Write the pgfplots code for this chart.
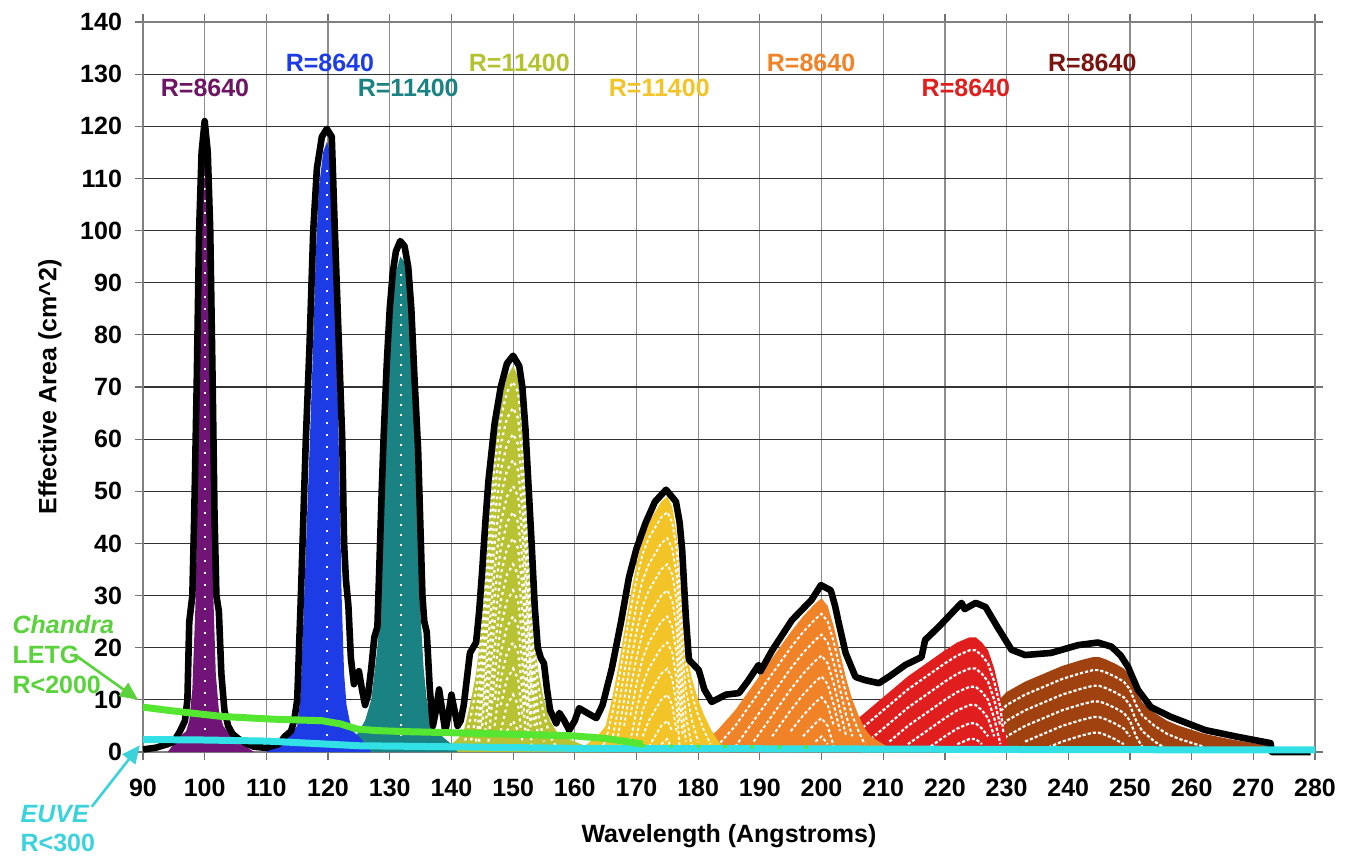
\documentclass[border=0pt]{standalone}
\usepackage{fontspec}
\setmainfont{Liberation Sans}
\usepackage{pgfplots}
\usepackage{pgfplotstable}
\pgfplotsset{compat=1.18}
\usetikzlibrary{arrows.meta}

\definecolor{cpurple}{HTML}{701478}
\definecolor{cblue}{HTML}{1E3CE6}
\definecolor{cteal}{HTML}{1A8282}
\definecolor{colive}{HTML}{B8C232}
\definecolor{cyellow}{HTML}{F2C428}
\definecolor{corange}{HTML}{F08228}
\definecolor{cred}{HTML}{E01E1E}
\definecolor{cbrown}{HTML}{A0420F}
\definecolor{cgreen}{HTML}{55E632}
\definecolor{ccyan}{HTML}{32E1E6}
\definecolor{lgreen}{HTML}{5AD23C}
\definecolor{lcyan}{HTML}{3CD2DC}
\definecolor{lbrown}{HTML}{7A1410}
\definecolor{lpurple}{HTML}{6E1464}
\definecolor{lolive}{HTML}{B4C232}

\pgfplotstableread{
x y
94 0
95 1.5
96 3
97 4
97.5 6
98 12
98.5 28
99 60
99.4 95
99.7 112
100 118
100.3 112
100.6 95
101 60
101.4 30
101.8 15
102.3 8
103 5
104 3.5
105 3
106 2
107 0.8
108 0
}\tpurple

\pgfplotstableread{
x y
110 0
111 1.5
113 2.5
114 3.5
115 5
115.5 10
116 25
116.5 42
117 58
117.5 75
118 95
118.5 108
119.2 115
119.8 117
120.4 115
120.9 100
121.4 78
121.8 55
122.2 30
122.6 15
123 9
123.5 6
124 4
125 3
126 1.5
127 0
}\tblue

\pgfplotstableread{
x y
123 0
124 2
125 4
126 6
127 10
127.5 15
128 20
128.5 35
129 52
129.5 67
130 79
130.5 87
131 92
131.7 95
132.4 94
133 88
133.5 78
134 62
134.5 45
135 26
135.5 16
136 10
137 5
138 3.5
139 2.5
140 1.5
141 0
}\tteal

\pgfplotstableread{
x y
138 0
140 1.5
141 2.5
142 4
143 9
144 15
144.5 20
145 28
145.5 37
146 45
147 58
148 67
149 72
150 74
150.8 72
151.5 65
152 57
152.5 46
153 34
153.5 23
154 16
155 10
156 6
157 4
158 3
160 2
162 1
164 0
}\tolive

\pgfplotstableread{
x y
160 0
162 1.5
164 3.5
165 5
166 10
167 16
168 23
169 30
170 36
171 41
172 44
173 46
174 48
175 49
175.8 47
176.5 42
177 34
177.5 26
178 20
179 14
180 10
181 7
182 4.5
183 2.5
184 1
185 0
}\tyellow

\pgfplotstableread{
x y
177 0
180 1.5
183 4
186 8
189 13
192 18
195 23
197 26
199 28.5
200 29.5
201 28
202 24
203 19
204 14
205 10
206 7
207 4.5
208 3
210 1.5
212 0
}\torange

\pgfplotstableread{
x y
196 0
199 1.5
202 3
205 5.5
208 8.5
211 11.5
214 14.5
217 17
220 19.5
222 21
224 22
225 22
226 21
227 19.5
228 16
229 11
229.5 6
230 2
231 0
}\tred

\pgfplotstableread{
x y
213 0
216 1.5
219 2.5
222 3.5
224 4.5
226 6.5
228 9
230 11.5
233 13.5
236 15
239 16.5
242 17.6
244 18.2
245 18.2
246 17.8
247.5 17
249 16
250 14.5
251 11.5
252 9.5
254 7.5
256 6
258 5
262 3.5
266 2.5
270 1.7
273 1.2
273.2 0
}\tbrown

\pgfplotstableread{
x y
90 0.5
92 0.8
94 1.5
95 2
96 4
96.8 6
97.2 10
97.5 25
98 30
98.3 45
98.7 70
99.1 100
99.5 115
100 121
100.5 115
100.9 100
101.3 70
101.6 45
101.9 30
102.3 27
102.7 15
103.2 8
103.8 5
104.5 3.5
105.5 2.5
107 1.5
108 1
110 0.8
112 1.5
113 3
114 4
114.5 6
115 10
115.3 20
115.6 30
116 45
116.4 60
117 78
117.6 100
118.2 112
119 118
119.8 119.5
120.6 118
121.1 100
121.7 80
122.3 60
122.6 40
122.9 33
123.3 28
123.7 18
124.2 13
125 15.5
125.5 12
126 9
126.5 11
127 16
127.5 22
128 24
128.3 35
128.7 50
129 60
129.5 74
130 85
130.5 92
131 96
131.7 98
132.4 97
133 93
133.5 85
134 72
134.6 58
135 42
135.3 30
135.6 25
136 23
136.5 12
137 5
137.5 8
138 12
138.5 8
139 4
139.5 7
140 11
140.5 8
141 5
141.5 6
142 9
142.5 14
143 19
144 21
144.5 27
145 35
145.5 44
146 52
147 63
148 70
149 74.5
150 76
151 74
151.5 70
152 62
152.5 51
153 40
153.5 28
154 20
154.5 18
155 17
155.5 12
156 8
157 5.5
157.5 7.5
158.3 6
159.1 4.2
160 6
160.7 8.4
162 7.5
163.5 6.5
164.5 9
166 16
167.5 25
168.8 33.6
170 39
171.5 44
173 48
174.8 50.3
176.4 48
177 44
177.4 38.8
178 26
178.5 17.7
180.1 15.7
181 12
182.2 9.6
184.5 11
186.6 11.3
188 13.5
189.8 16.7
190.1 15.5
192 19.5
195.2 25.3
198.4 29.2
199.9 32
201.5 31
202.2 28
202.8 24.7
203.9 19
205.5 14.4
207 13.8
209.3 13.2
211 14.5
213.6 16.7
216.2 18.2
216.8 21.5
219 24
222.7 28.6
223.2 27.4
225 28.6
226.6 27.8
228.5 24
230.8 19.6
233 18.6
237.2 19
241.6 20.5
244.8 21
247 20.2
248.5 18.5
249.7 16.3
251.3 11.9
253.4 8.6
256.7 6.7
262.2 4.2
267.5 2.9
272.8 1.7
273 0
279.3 0
}\tenv

\pgfplotstableread{
x y
90 8.6
94 8.0
97.6 7.5
103 6.8
111 6.3
119 6.0
122 5.4
124.7 4.4
128 4.1
132.8 3.9
143.5 3.6
159.7 3.1
165 2.6
169 1.9
171 1.5
}\tgreen

\pgfplotstableread{
x y
90 2.4
100 2.3
110 2.1
115 1.8
120 1.5
125 1.2
140 1.0
160 0.7
200 0.6
240 0.45
280 0.4
}\tcyan

% white nested arcs: each arc is the curve moved down by a constant
\newcommand{\hatch}[3]{%
  \pgfplotsinvokeforeach{#2}{\addplot[white, #3, restrict y to domain=0.4:200, unbounded coords=jump] table[x=x, y expr=\thisrow{y}-##1] {#1};}}

\newcommand{\lab}{\bfseries\fontsize{12.5}{15}\selectfont}

\begin{document}
\begin{tikzpicture}
\begin{axis}[
  scale only axis, width=586pt, height=365pt,
  xmin=90, xmax=280, ymin=0, ymax=140,
  xtick={90,100,...,280}, ytick={0,10,...,140},
  grid=major,
  x grid style={black!45, line width=0.6pt},
  y grid style={black!80, line width=0.6pt},
  axis line style={black!50, line width=1pt},
  tick align=outside, major tick length=4pt,
  tick style={black!55, line width=0.6pt},
  ticklabel style={font=\lab},
  /pgf/number format/assume math mode=true,
  xticklabel style={yshift=-6pt},
  yticklabel style={xshift=-3pt},
  xlabel={Wavelength (Angstroms)},
  ylabel={Effective Area (cm\^{}2)},
  xlabel style={font=\lab, at={(axis description cs:0.5,-0.115)}, anchor=center},
  ylabel style={font=\lab, at={(axis description cs:-0.0794,0.5)}, anchor=center},
  clip=false,
  no markers,
]
% fills, right to left
\addplot[fill=cbrown, draw=none] table {\tbrown} \closedcycle;
\hatch{\tbrown}{2.5,5.5,8.5,11.5,14.5}{line width=1.1pt, dash pattern=on 1.6pt off 1pt}
\addplot[fill=cred, draw=none] table {\tred} \closedcycle;
\hatch{\tred}{2.5,6,9.5,13,16.5,19.5}{line width=1.1pt, dash pattern=on 1.6pt off 1pt}
\addplot[fill=corange, draw=none] table {\torange} \closedcycle;
\hatch{\torange}{3,7,11,15,19,23,26.5}{line width=1pt, dash pattern=on 1.6pt off 1.2pt}
\addplot[fill=cyellow, draw=none] table {\tyellow} \closedcycle;
\hatch{\tyellow}{3,8,13,18,23,28,33,38,43,46.5}{line width=0.9pt, dash pattern=on 1.6pt off 1.2pt}
\addplot[fill=colive, draw=none] table {\tolive} \closedcycle;
\hatch{\tolive}{3,8,13,18,23,28,33,38,43,48,53,58,63,68}{line width=1.1pt, dash pattern=on 1.4pt off 1.8pt}
\addplot[fill=cteal, draw=none] table {\tteal} \closedcycle;
\addplot[white, line width=1.2pt, dash pattern=on 1pt off 4pt] coordinates {(131.8,3) (131.8,92)};
\addplot[fill=cblue, draw=none] table {\tblue} \closedcycle;
\addplot[white, line width=1pt, dash pattern=on 1pt off 5pt] coordinates {(119.8,3) (119.8,112)};
\addplot[fill=cpurple, draw=none] table {\tpurple} \closedcycle;
\addplot[white, line width=1pt, dash pattern=on 1pt off 5pt] coordinates {(100,2) (100,112)};
% envelope
\addplot[black, line width=3.3pt, line join=round] table {\tenv};
% EUVE and Chandra
\addplot[ccyan, line width=3.5pt] table {\tcyan};
\addplot[cgreen, line width=3.5pt] table {\tgreen};
\addplot[cgreen, line width=1.6pt, dash pattern=on 1.5pt off 12pt] coordinates {(171,1.2) (200,0.9)};
% resolution labels
\node[font=\lab, text=lpurple] at (axis cs:100.05,127.3) {R=8640};
\node[font=\lab, text=cblue] at (axis cs:120.3,132.1) {R=8640};
\node[font=\lab, text=cteal] at (axis cs:133.0,127.3) {R=11400};
\node[font=\lab, text=lolive] at (axis cs:151.0,132.1) {R=11400};
\node[font=\lab, text=cyellow] at (axis cs:173.7,127.3) {R=11400};
\node[font=\lab, text=corange] at (axis cs:198.3,132.1) {R=8640};
\node[font=\lab, text=cred] at (axis cs:223.4,127.3) {R=8640};
\node[font=\lab, text=lbrown] at (axis cs:243.9,132.1) {R=8640};
% annotations
\node[anchor=west, inner sep=0pt, font=\lab\itshape, text=lgreen] at (axis cs:68.8,24.4) {Chandra};
\node[anchor=west, inner sep=0pt, font=\lab, text=lgreen] at (axis cs:68.8,18.6) {LETG};
\node[anchor=west, inner sep=0pt, font=\lab, text=lgreen] at (axis cs:68.8,12.85) {R<2000};
\draw[lgreen, line width=1.3pt, -{Triangle[length=9pt,width=8pt]}] (axis cs:79.0,18.6) -- (axis cs:89.2,10.0);
\node[anchor=west, inner sep=0pt, font=\lab\itshape, text=lcyan] at (axis cs:70.1,-11.9) {EUVE};
\node[anchor=west, inner sep=0pt, font=\lab, text=lcyan] at (axis cs:70.1,-17.45) {R<300};
\draw[lcyan, line width=1.3pt, -{Triangle[length=9pt,width=8pt]}] (axis cs:81.7,-10.5) -- (axis cs:89.5,1.3);
\end{axis}
\pgfresetboundingbox
\path[use as bounding box] ([shift={(-71.5pt,-52pt)}]current axis.south west) rectangle ([shift={(16.5pt,11pt)}]current axis.north east);
\end{tikzpicture}
\end{document}
